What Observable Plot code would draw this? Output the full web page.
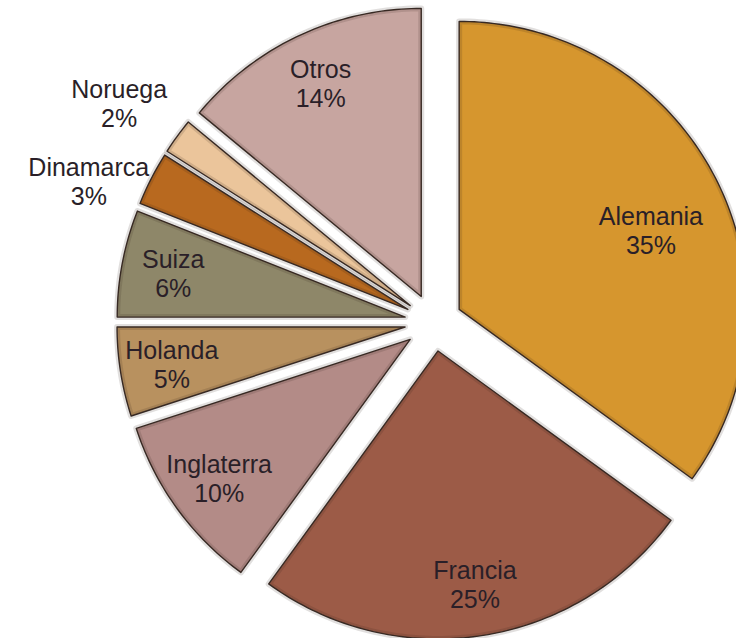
<!DOCTYPE html>
<html><head><meta charset="utf-8">
<script src="https://cdn.jsdelivr.net/npm/d3@7"></script>
<script src="https://cdn.jsdelivr.net/npm/@observablehq/plot@0.6"></script>
<style>body{margin:0;background:#fff;overflow:hidden}#chart svg{display:block}</style>
</head><body><div id="chart"></div>
<script>
// Data
const countries = ["Alemania", "Francia", "Inglaterra", "Holanda", "Suiza", "Dinamarca", "Noruega", "Otros"];
const shares = [35, 25, 10, 5, 6, 3, 2, 14];
const colors = ["#D6962E", "#9C5B47", "#B38B87", "#B8915F", "#8E8769", "#B8691F", "#EBC59B", "#C7A5A0"];

// Layout
const W = 736, H = 638, R = 288, CX = 433, CY = 322, EXPLODE = 0.1, FONT = 25;
const total = d3.sum(shares);
let acc = 0;
const slices = countries.map((name, i) => {
  const a0 = acc / total * 2 * Math.PI; acc += shares[i];
  const a1 = acc / total * 2 * Math.PI;
  return {name, share: shares[i], a0, a1, mid: (a0 + a1) / 2};
});
const outline = slices.flatMap(s => {
  const ox = EXPLODE * Math.sin(s.mid), oy = EXPLODE * Math.cos(s.mid);
  const n = Math.max(8, Math.ceil((s.a1 - s.a0) / (Math.PI / 180)));
  const pts = [{name: s.name, x: ox, y: oy}];
  for (let k = 0; k <= n; k++) {
    const a = s.a0 + (s.a1 - s.a0) * k / n;
    pts.push({name: s.name, x: ox + Math.sin(a), y: oy + Math.cos(a)});
  }
  return pts;
});
// label positions (in radius units), outside for small slices
const labels = slices.map(s => {
  const outside = s.share < 5;
  const big = s.share > 30;
  const f = EXPLODE + (outside ? 1.23 : (big ? 0.72 : 0.82));
  const a = s.mid + (big ? 0.07 : outside ? -0.02 : 0);
  return {...s, outside, x: f * Math.sin(a), y: f * Math.cos(a)};
});
// simple collision avoidance for outside labels (push lower label down)
const outs = labels.filter(d => d.outside).sort((a, b) => b.y - a.y);
const minGap = 3.1 * FONT / R;
for (let i = 1; i < outs.length; i++) {
  if (outs[i - 1].y - outs[i].y < minGap) outs[i].y = outs[i - 1].y - minGap;
}

const chart = Plot.plot({
  width: W, height: H, margin: 0,
  x: {domain: [-CX / R, (W - CX) / R], axis: null},
  y: {domain: [-(H - CY) / R, CY / R], axis: null},
  color: {type: "ordinal", domain: countries, range: colors},
  style: {background: "#fff"},
  marks: [
    Plot.line(outline, {x: "x", y: "y", z: "name", fill: "name", stroke: "#3a2c26", strokeWidth: 1.4, curve: "linear-closed"}),
    Plot.line(outline, {x: "x", y: "y", z: "name", fill: "none", stroke: "#2a1e18", strokeOpacity: 0.14, strokeWidth: 6, curve: "linear-closed"}),
    Plot.text(labels, {x: "x", y: "y", text: d => `${d.name}\n${d.share}%`, fontSize: FONT, lineHeight: 1.16, fill: "#2a1f28", fontFamily: "Liberation Sans, Arial, sans-serif"})
  ]
});
document.getElementById("chart").append(chart);
</script>
</body></html>
